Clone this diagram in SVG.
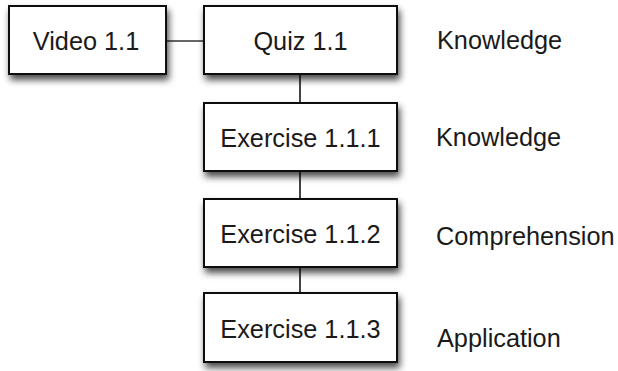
<svg xmlns="http://www.w3.org/2000/svg" width="618" height="371" viewBox="0 0 618 371">
<defs>
<filter id="sh" x="-20%" y="-30%" width="140%" height="170%">
<feDropShadow dx="2" dy="5" stdDeviation="3.5" flood-color="#000" flood-opacity="0.7"/>
</filter>
<style>
.box{fill:#fff;stroke:#111;stroke-width:2;filter:url(#sh)}
.t{font-family:"Liberation Sans",Arial,sans-serif;font-size:25.3px;fill:#1a1a1a}
.c{text-anchor:middle}
.ln{stroke:#444;stroke-width:2;fill:none}
</style>
</defs>
<rect width="618" height="371" fill="#fff"/>
<g id="connectors">
<line class="ln" x1="166" y1="41" x2="204" y2="41" style="stroke:#666"/>
<line class="ln" x1="300" y1="74" x2="300" y2="103"/>
<line class="ln" x1="300" y1="171" x2="300" y2="199"/>
<line class="ln" x1="300" y1="267" x2="300" y2="293"/>
</g>
<g id="video">
<rect class="box" x="9" y="6" width="157" height="68"/>
<text class="t c" x="86" y="50">Video 1.1</text>
</g>
<g id="quiz">
<rect class="box" x="204" y="6" width="193" height="68"/>
<text class="t c" x="300.5" y="50">Quiz 1.1</text>
</g>
<g id="ex111">
<rect class="box" x="204" y="103" width="193" height="68"/>
<text class="t c" x="300.5" y="146.5">Exercise 1.1.1</text>
</g>
<g id="ex112">
<rect class="box" x="204" y="199" width="193" height="68"/>
<text class="t c" x="300.5" y="242.5">Exercise 1.1.2</text>
</g>
<g id="ex113">
<rect class="box" x="204" y="293" width="193" height="69"/>
<text class="t c" x="300.5" y="337.5">Exercise 1.1.3</text>
</g>
<g id="labels">
<text class="t" x="437" y="49">Knowledge</text>
<text class="t" x="436" y="146">Knowledge</text>
<text class="t" x="436" y="245">Comprehension</text>
<text class="t" x="437" y="347">Application</text>
</g>
</svg>
